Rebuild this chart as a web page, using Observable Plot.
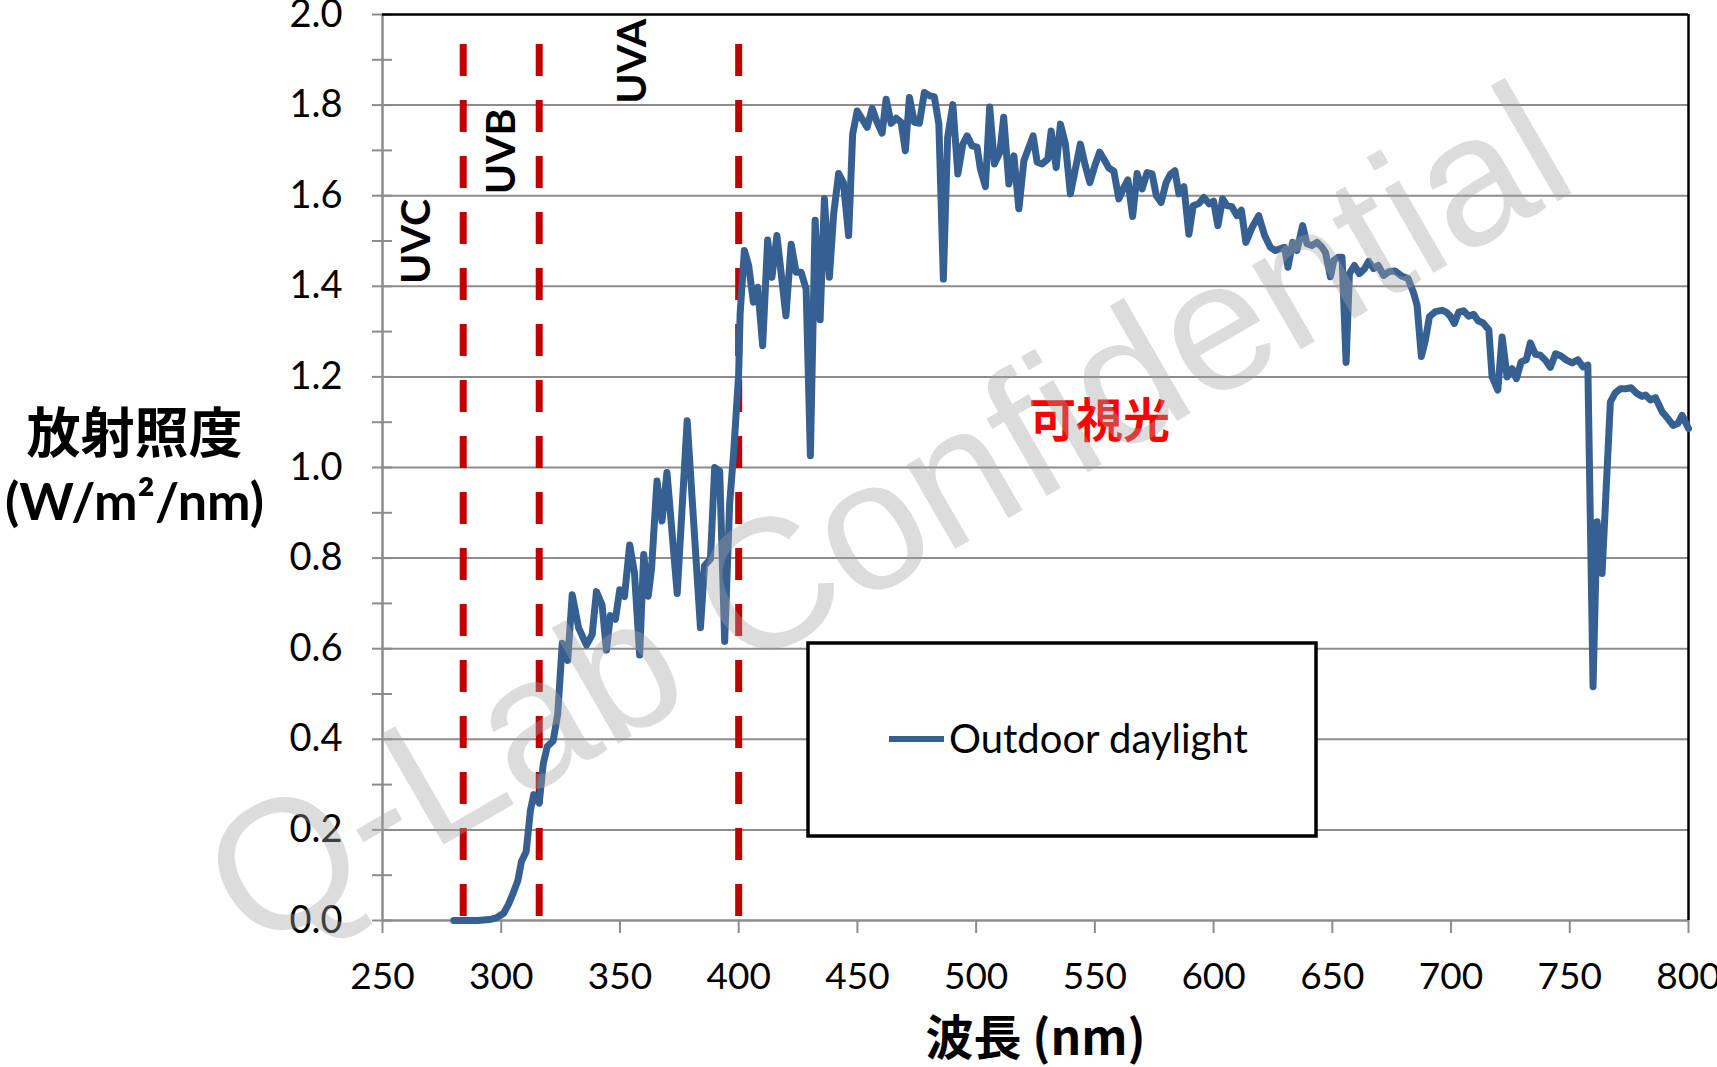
<!DOCTYPE html>
<html><head><meta charset="utf-8">
<script src="https://cdn.jsdelivr.net/npm/d3@7"></script>
<script src="https://cdn.jsdelivr.net/npm/@observablehq/plot@0.6"></script>
<style>html,body{margin:0;padding:0;background:#fff;}</style>
</head><body><div id="chart"></div>
<script>
// ---- data ----
const wavelength = [280,285,290,295,298,301,303,305,307,308.5,310.5,312.3,313.7,316,317.7,319.4,321.9,323.8,325.7,328,329.9,332.6,335.9,338.3,340.1,342.5,344.3,346,348.1,349.9,351.9,354.1,356.1,358.3,360,361.9,363.3,365.6,367.7,369.8,374.1,378.3,383.9,385.6,388.1,389.9,392,394.1,396.2,397.9,400,400.6,402.4,404.2,406.2,408,410.1,412.2,414,416.1,419.9,422.1,424.2,426.3,428.4,430.2,432.2,434.3,436.1,438.2,440,442.1,444.1,446.3,448,449.9,452,454.1,456.2,458.3,460.4,462.1,464.2,466.3,468.4,470.2,471.9,474,476.1,478.2,480.3,482.4,484.3,486.2,488,490.2,492.3,494.4,496.2,498.3,500.4,501.8,503.9,505.7,507.7,510,511.6,513.8,515.9,518,520.1,524,525.7,527.8,530.2,531.6,533.7,535.5,537.6,539.7,541.8,543.9,545.8,547.9,549.8,552,553.8,555.9,558,560.1,562.2,563.9,565.9,567.8,569.9,572,574.1,575.9,577.9,580,581.9,583.7,585.4,587.5,589.6,591.4,593.8,595.9,598.2,600,601.8,603.8,605.6,607.7,609.8,611.7,613.6,616.2,619,621.5,623.9,626,628.1,629.9,631.3,633.3,635.1,637.5,639.3,641.4,643.5,645.7,647.1,649.2,650.6,652.4,654.1,655.8,657.2,659.3,661.4,663.6,665.3,667.4,669.3,671.6,673.7,676.3,679.4,681.9,684.3,685.7,687.5,689.2,690.9,693.4,696.2,698,699.7,701.4,703.2,705.3,707.4,709.5,711.4,713.5,715.9,717.3,719.7,721.5,723.6,725.7,727.5,729.5,731.7,733.4,735.5,737.6,739.7,741.8,744,746.3,748.6,751,753.4,755.6,757.6,759.8,761.5,763.6,767.1,769.2,771.3,773.5,775.8,778.4,780.5,781.9,784,786.1,788.9,791.3,793.5,795.5,797.3,800];
const irradiance = [0,0,0,0.002,0.006,0.016,0.035,0.06,0.088,0.13,0.152,0.243,0.278,0.259,0.346,0.384,0.397,0.456,0.612,0.574,0.719,0.646,0.608,0.631,0.726,0.696,0.597,0.673,0.665,0.73,0.715,0.829,0.768,0.586,0.808,0.716,0.776,0.97,0.882,0.989,0.722,1.103,0.646,0.783,0.798,1.0,0.992,0.616,0.92,1.034,1.207,1.339,1.479,1.446,1.365,1.398,1.269,1.502,1.42,1.512,1.335,1.493,1.431,1.431,1.394,1.026,1.546,1.326,1.593,1.42,1.56,1.649,1.629,1.512,1.736,1.787,1.769,1.751,1.793,1.762,1.738,1.813,1.76,1.771,1.762,1.699,1.817,1.762,1.76,1.828,1.821,1.818,1.758,1.416,1.729,1.801,1.648,1.714,1.732,1.71,1.707,1.659,1.62,1.796,1.67,1.696,1.773,1.626,1.688,1.571,1.677,1.732,1.674,1.67,1.681,1.743,1.662,1.758,1.714,1.604,1.659,1.714,1.67,1.629,1.663,1.696,1.681,1.661,1.654,1.593,1.618,1.635,1.554,1.649,1.615,1.651,1.648,1.6,1.585,1.629,1.648,1.655,1.604,1.62,1.515,1.578,1.583,1.596,1.582,1.588,1.534,1.593,1.578,1.576,1.556,1.568,1.497,1.53,1.556,1.512,1.486,1.479,1.483,1.486,1.442,1.497,1.479,1.534,1.494,1.49,1.497,1.486,1.475,1.421,1.457,1.464,1.464,1.232,1.428,1.446,1.428,1.439,1.455,1.439,1.446,1.424,1.432,1.434,1.422,1.417,1.384,1.358,1.245,1.281,1.333,1.344,1.347,1.343,1.334,1.318,1.343,1.346,1.334,1.338,1.324,1.319,1.304,1.2,1.171,1.288,1.2,1.218,1.196,1.233,1.238,1.275,1.25,1.248,1.237,1.221,1.251,1.246,1.237,1.231,1.238,1.222,1.226,0.516,0.88,0.766,1.145,1.165,1.174,1.174,1.176,1.163,1.157,1.16,1.149,1.154,1.123,1.108,1.093,1.097,1.115,1.086];
const xTickValues = [250,300,350,400,450,500,550,600,650,700,750,800];
const yTickValues = [0,0.2,0.4,0.6,0.8,1.0,1.2,1.4,1.6,1.8,2.0];
const yMinorTickValues = [0,0.1,0.2,0.3,0.4,0.5,0.6,0.7,0.8,0.9,1.0,1.1,1.2,1.3,1.4,1.5,1.6,1.7,1.8,1.9,2.0];
const bandBoundaries = [284,316,400];
const bandLabels = ["UVC","UVB","UVA"];
const seriesName = "Outdoor daylight";
const regionLabel = "可視光";
const yTitleLines = ["放射照度","(W/m²/nm)"];
const xTitle = "波長 (nm)";
const watermarkText = "Q-Lab Confidential";

// ---- annotation placement (data coordinates) ----
const bandLabelAnchors = [{x:264.6,y:1.405},{x:300.4,y:1.603},{x:355.6,y:1.803}];
const dashTop = 1.934;

// ---- layout ----
const W = 1717, H = 1067;
const M = {left:382, right:29, top:14, bottom:147};
const innerW = W - M.left - M.right, innerH = H - M.top - M.bottom;
const blue = "#376092", grid = "#8c8c8c";
const latin = "Lato, 'Open Sans', sans-serif";
const cjk = "'Noto Sans CJK JP', sans-serif";

const data = wavelength.map((w,i)=>({w, v: irradiance[i]}));

const plot = Plot.plot({
  width: W, height: H,
  marginLeft: M.left, marginRight: M.right, marginTop: M.top, marginBottom: M.bottom,
  x: {domain:[250,800]},
  y: {domain:[0,2]},
  style: {fontFamily: latin, background:"#fff", overflow:"visible", color:"#000"},
  marks: [
    Plot.ruleY(yTickValues.filter(d=>d>0 && d<2), {stroke:grid, strokeWidth:2}),
    // y minor/major cross ticks
    Plot.ruleY(yMinorTickValues, {stroke:grid, strokeWidth:2, insetLeft:-10, insetRight: innerW - 10}),
    // x ticks (outward)
    Plot.ruleX(xTickValues, {stroke:grid, strokeWidth:2, insetBottom:-13, insetTop: innerH}),
    // axes and border
    Plot.ruleX([250], {stroke:grid, strokeWidth:2.5}),
    Plot.ruleY([0], {stroke:grid, strokeWidth:2.5}),
    Plot.ruleY([2], {stroke:"#000", strokeWidth:2.5}),
    Plot.ruleX([800], {stroke:"#000", strokeWidth:2.5}),
    Plot.axisY({ticks: yTickValues, tickSize:0, tickPadding:40, tickFormat: d=>d.toFixed(1), fontSize:38, label:null, fill:"#000"}),
    Plot.axisX({ticks: xTickValues, tickSize:0, tickPadding:42, tickFormat: d=>String(d), fontSize:37, label:null, fill:"#000"}),
    // UV boundaries
    Plot.ruleX(bandBoundaries, {y1: dashTop, y2: 0, stroke:"#C00000", strokeWidth:7, strokeDasharray:"32,24"}),
    // spectrum
    Plot.line(data, {x:"w", y:"v", stroke:blue, strokeWidth:7, strokeLinejoin:"round", strokeLinecap:"round"}),
    // band labels
    Plot.text(bandLabels, {x:(d,i)=>bandLabelAnchors[i].x, y:(d,i)=>bandLabelAnchors[i].y, text:d=>d, rotate:-90, textAnchor:"start", lineAnchor:"middle", fontSize:41, fontWeight:"bold", fill:"#000"}),
    Plot.text([regionLabel], {x:552, y:1.10, text:d=>d, fontFamily:cjk, fontWeight:"bold", fontSize:47, fill:"#FF0000"}),
    // axis titles
    Plot.text([yTitleLines[0]], {frameAnchor:"left", dx:-248, dy:-32, text:d=>d, textAnchor:"middle", fontFamily:cjk, fontWeight:"bold", fontSize:54, fill:"#000"}),
    Plot.text([yTitleLines[1]], {frameAnchor:"left", dx:-248, dy:36, text:d=>d, textAnchor:"middle", fontFamily:latin, fontWeight:"bold", fontSize:52, fill:"#000"}),
    Plot.text([xTitle], {frameAnchor:"bottom", dy:134, text:d=>d, textAnchor:"middle", fontFamily:cjk, fontWeight:"bold", fontSize:48, fill:"#000"}),
    // watermark
    Plot.text([watermarkText], {x:463, y:0.885, text:d=>d, rotate:-30, fontSize:184, fontFamily:"'Liberation Sans', Arial, sans-serif", fill:"#a3a3a3", fillOpacity:0.38, className:"wm"})
  ]
});

// legend box
const svg = d3.select(plot);
const lg = svg.append("g").attr("class","legend");
lg.append("rect").attr("x",808).attr("y",643).attr("width",508).attr("height",193)
  .attr("fill","#fff").attr("stroke","#000").attr("stroke-width",3.5);
lg.append("line").attr("x1",889).attr("x2",944).attr("y1",739).attr("y2",739)
  .attr("stroke",blue).attr("stroke-width",6);
lg.append("text").attr("x",949).attr("y",739).attr("dy","0.35em").attr("text-anchor","start")
  .attr("font-family",latin).attr("font-size",40).attr("fill","#000").text(seriesName);
const wm = svg.select("g.wm");
if (!wm.empty()) wm.raise();

document.getElementById("chart").appendChild(plot);
</script>
</body></html>
